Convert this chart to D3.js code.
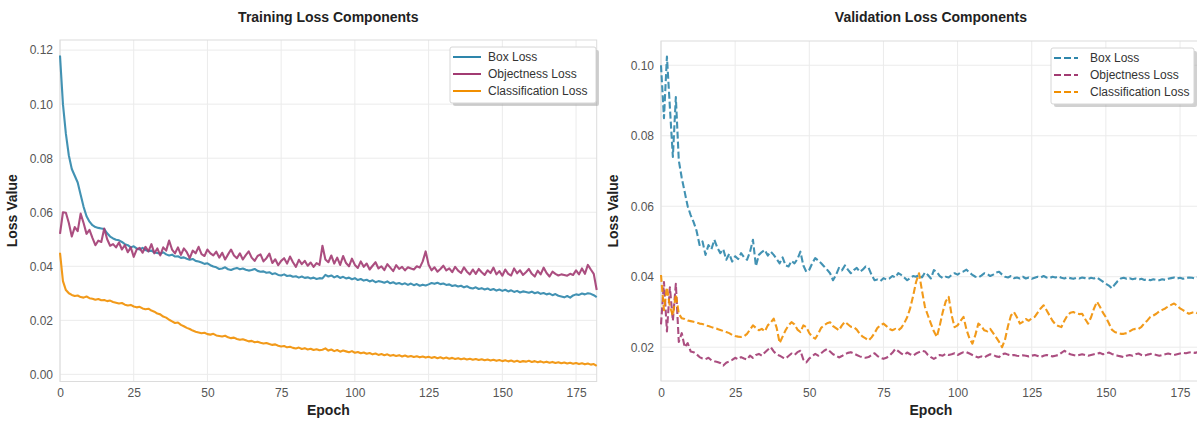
<!DOCTYPE html>
<html>
<head>
<meta charset="utf-8">
<script src="https://cdn.jsdelivr.net/npm/d3@7"></script>
<style>
body { margin: 0; background: #fff; }
text { font-family: "Liberation Sans", Arial, sans-serif; }
</style>
</head>
<body>
<div id="chart"></div>
<script>
// training losses, one value per epoch (0..182)
var trainBox = [
0.1180,0.1000,0.0890,0.0810,0.0760,0.0735,0.0710,0.0665,0.0620,0.0585,
0.0565,0.0552,0.0545,0.0542,0.0540,0.0538,0.0522,0.0510,0.0503,0.0498,
0.0496,0.0490,0.0482,0.0478,0.0470,0.0474,0.0466,0.0462,0.0468,0.0460,
0.0456,0.0458,0.0451,0.0449,0.0446,0.0452,0.0444,0.0440,0.0443,0.0436,
0.0437,0.0431,0.0433,0.0428,0.0424,0.0427,0.0420,0.0418,0.0414,0.0409,
0.0411,0.0404,0.0399,0.0396,0.0390,0.0392,0.0396,0.0389,0.0386,0.0391,
0.0394,0.0389,0.0392,0.0387,0.0384,0.0386,0.0390,0.0383,0.0380,0.0381,
0.0376,0.0378,0.0371,0.0374,0.0368,0.0366,0.0370,0.0364,0.0366,0.0361,
0.0363,0.0358,0.0362,0.0357,0.0359,0.0355,0.0358,0.0353,0.0356,0.0355,
0.0368,0.0362,0.0366,0.0359,0.0364,0.0357,0.0361,0.0355,0.0358,0.0352,
0.0356,0.0349,0.0353,0.0347,0.0350,0.0344,0.0348,0.0341,0.0345,0.0343,
0.0339,0.0344,0.0337,0.0341,0.0335,0.0338,0.0333,0.0337,0.0331,0.0336,
0.0330,0.0334,0.0328,0.0332,0.0329,0.0333,0.0338,0.0335,0.0339,0.0334,
0.0336,0.0331,0.0333,0.0327,0.0330,0.0325,0.0328,0.0322,0.0326,0.0320,
0.0318,0.0322,0.0316,0.0319,0.0314,0.0318,0.0312,0.0316,0.0310,0.0314,
0.0309,0.0313,0.0307,0.0311,0.0305,0.0309,0.0303,0.0307,0.0305,0.0302,
0.0306,0.0300,0.0304,0.0298,0.0301,0.0296,0.0299,0.0293,0.0297,0.0291,
0.0288,0.0285,0.0290,0.0284,0.0292,0.0296,0.0294,0.0299,0.0296,0.0300,
0.0298,0.0293,0.0286];

var trainObj = [
0.0520,0.0600,0.0598,0.0560,0.0510,0.0545,0.0530,0.0595,0.0560,0.0520,
0.0535,0.0505,0.0478,0.0495,0.0490,0.0540,0.0500,0.0476,0.0482,0.0470,
0.0488,0.0462,0.0478,0.0452,0.0470,0.0435,0.0462,0.0468,0.0450,0.0472,
0.0455,0.0482,0.0448,0.0466,0.0440,0.0470,0.0458,0.0495,0.0462,0.0448,
0.0470,0.0442,0.0466,0.0452,0.0430,0.0458,0.0448,0.0472,0.0445,0.0438,
0.0462,0.0448,0.0440,0.0454,0.0432,0.0450,0.0425,0.0444,0.0462,0.0440,
0.0430,0.0448,0.0425,0.0441,0.0455,0.0432,0.0420,0.0438,0.0444,0.0418,
0.0430,0.0447,0.0412,0.0426,0.0404,0.0420,0.0430,0.0410,0.0436,0.0415,
0.0398,0.0424,0.0408,0.0420,0.0402,0.0414,0.0398,0.0412,0.0405,0.0476,
0.0425,0.0415,0.0440,0.0410,0.0432,0.0405,0.0438,0.0412,0.0400,0.0428,
0.0405,0.0394,0.0418,0.0398,0.0410,0.0388,0.0402,0.0415,0.0392,0.0400,
0.0386,0.0408,0.0395,0.0382,0.0404,0.0390,0.0398,0.0385,0.0396,0.0392,
0.0388,0.0400,0.0395,0.0418,0.0455,0.0406,0.0385,0.0396,0.0380,0.0390,
0.0402,0.0385,0.0392,0.0378,0.0398,0.0384,0.0375,0.0396,0.0380,0.0370,
0.0388,0.0372,0.0390,0.0378,0.0368,0.0385,0.0375,0.0395,0.0370,0.0382,
0.0365,0.0388,0.0372,0.0366,0.0392,0.0374,0.0385,0.0368,0.0378,0.0390,
0.0372,0.0362,0.0384,0.0370,0.0395,0.0375,0.0362,0.0380,0.0372,0.0366,
0.0370,0.0368,0.0365,0.0372,0.0368,0.0385,0.0370,0.0392,0.0372,0.0405,
0.0388,0.0372,0.0312];

var trainCls = [
0.0450,0.0345,0.0312,0.0300,0.0294,0.0290,0.0292,0.0286,0.0284,0.0288,
0.0282,0.0280,0.0276,0.0279,0.0274,0.0275,0.0271,0.0273,0.0268,0.0265,
0.0262,0.0264,0.0258,0.0255,0.0257,0.0251,0.0248,0.0250,0.0244,0.0241,
0.0243,0.0236,0.0232,0.0225,0.0222,0.0214,0.0210,0.0202,0.0196,0.0190,
0.0192,0.0183,0.0178,0.0172,0.0168,0.0162,0.0158,0.0155,0.0152,0.0154,
0.0149,0.0147,0.0150,0.0144,0.0142,0.0140,0.0143,0.0137,0.0134,0.0136,
0.0131,0.0128,0.0130,0.0126,0.0122,0.0124,0.0119,0.0121,0.0117,0.0114,
0.0116,0.0112,0.0109,0.0111,0.0106,0.0103,0.0105,0.0100,0.0102,0.0098,
0.0096,0.0099,0.0094,0.0097,0.0092,0.0095,0.0090,0.0093,0.0089,0.0091,
0.0096,0.0088,0.0092,0.0086,0.0090,0.0084,0.0088,0.0085,0.0082,0.0086,
0.0080,0.0083,0.0078,0.0081,0.0076,0.0079,0.0074,0.0077,0.0072,0.0075,
0.0071,0.0074,0.0069,0.0072,0.0068,0.0071,0.0066,0.0070,0.0065,0.0068,
0.0064,0.0067,0.0063,0.0066,0.0062,0.0065,0.0061,0.0064,0.0060,0.0063,
0.0059,0.0062,0.0058,0.0061,0.0057,0.0060,0.0056,0.0059,0.0055,0.0058,
0.0054,0.0057,0.0053,0.0056,0.0052,0.0055,0.0051,0.0054,0.0050,0.0053,
0.0049,0.0052,0.0048,0.0051,0.0047,0.0050,0.0046,0.0049,0.0047,0.0050,
0.0046,0.0049,0.0045,0.0048,0.0044,0.0047,0.0043,0.0046,0.0042,0.0045,
0.0041,0.0044,0.0040,0.0043,0.0039,0.0042,0.0038,0.0041,0.0037,0.0040,
0.0036,0.0038,0.0031];

// validation losses
var valBox = [
0.1000,0.0850,0.1025,0.0880,0.0740,0.0910,0.0730,0.0680,0.0640,0.0600,
0.0575,0.0555,0.0530,0.0490,0.0500,0.0462,0.0490,0.0478,0.0505,0.0482,
0.0467,0.0478,0.0448,0.0465,0.0443,0.0458,0.0450,0.0467,0.0455,0.0448,
0.0470,0.0505,0.0430,0.0462,0.0470,0.0476,0.0460,0.0471,0.0462,0.0450,
0.0438,0.0455,0.0432,0.0429,0.0445,0.0438,0.0450,0.0471,0.0432,0.0414,
0.0420,0.0438,0.0453,0.0446,0.0438,0.0429,0.0420,0.0410,0.0390,0.0405,
0.0425,0.0418,0.0432,0.0420,0.0410,0.0419,0.0425,0.0414,0.0420,0.0429,
0.0425,0.0405,0.0390,0.0392,0.0388,0.0396,0.0392,0.0395,0.0402,0.0398,
0.0410,0.0405,0.0398,0.0390,0.0396,0.0402,0.0400,0.0405,0.0398,0.0412,
0.0405,0.0395,0.0419,0.0414,0.0402,0.0396,0.0400,0.0398,0.0405,0.0410,
0.0406,0.0412,0.0415,0.0420,0.0412,0.0405,0.0400,0.0398,0.0403,0.0410,
0.0408,0.0402,0.0406,0.0412,0.0414,0.0406,0.0400,0.0398,0.0402,0.0396,
0.0398,0.0395,0.0400,0.0395,0.0398,0.0394,0.0397,0.0400,0.0398,0.0402,
0.0398,0.0396,0.0400,0.0398,0.0401,0.0397,0.0395,0.0398,0.0396,0.0394,
0.0397,0.0395,0.0398,0.0396,0.0394,0.0397,0.0395,0.0398,0.0392,0.0386,
0.0380,0.0375,0.0367,0.0378,0.0388,0.0395,0.0397,0.0394,0.0396,0.0393,
0.0395,0.0392,0.0394,0.0391,0.0393,0.0390,0.0393,0.0391,0.0390,0.0393,
0.0391,0.0394,0.0396,0.0398,0.0395,0.0397,0.0394,0.0396,0.0398,0.0397,
0.0395,0.0398,0.0396];

var valObj = [
0.0265,0.0385,0.0245,0.0370,0.0275,0.0380,0.0215,0.0240,0.0200,0.0212,
0.0188,0.0186,0.0180,0.0172,0.0168,0.0166,0.0170,0.0163,0.0160,0.0158,
0.0155,0.0148,0.0156,0.0160,0.0164,0.0170,0.0166,0.0172,0.0168,0.0165,
0.0176,0.0170,0.0178,0.0181,0.0176,0.0185,0.0193,0.0200,0.0188,0.0180,
0.0176,0.0171,0.0168,0.0175,0.0182,0.0178,0.0186,0.0190,0.0165,0.0157,
0.0168,0.0175,0.0181,0.0176,0.0183,0.0190,0.0195,0.0188,0.0180,0.0176,
0.0171,0.0175,0.0180,0.0184,0.0186,0.0182,0.0178,0.0174,0.0171,0.0170,
0.0172,0.0178,0.0183,0.0175,0.0170,0.0167,0.0170,0.0176,0.0184,0.0195,
0.0189,0.0182,0.0178,0.0185,0.0180,0.0176,0.0182,0.0186,0.0190,0.0188,
0.0178,0.0172,0.0167,0.0172,0.0178,0.0176,0.0181,0.0178,0.0180,0.0183,
0.0178,0.0182,0.0186,0.0186,0.0182,0.0178,0.0174,0.0171,0.0174,0.0171,
0.0176,0.0180,0.0178,0.0174,0.0172,0.0180,0.0182,0.0179,0.0177,0.0178,
0.0176,0.0175,0.0177,0.0176,0.0174,0.0176,0.0178,0.0175,0.0172,0.0176,
0.0178,0.0176,0.0174,0.0176,0.0178,0.0184,0.0190,0.0185,0.0180,0.0178,
0.0176,0.0178,0.0180,0.0178,0.0176,0.0178,0.0180,0.0182,0.0184,0.0180,
0.0182,0.0185,0.0181,0.0178,0.0176,0.0174,0.0172,0.0176,0.0178,0.0176,
0.0180,0.0182,0.0178,0.0176,0.0179,0.0181,0.0180,0.0178,0.0176,0.0178,
0.0180,0.0182,0.0180,0.0178,0.0180,0.0182,0.0184,0.0183,0.0185,0.0186,
0.0184,0.0186,0.0185];

var valCls = [
0.0405,0.0305,0.0370,0.0315,0.0290,0.0350,0.0295,0.0282,0.0280,0.0276,
0.0274,0.0272,0.0270,0.0267,0.0266,0.0262,0.0260,0.0257,0.0254,0.0252,
0.0249,0.0246,0.0243,0.0240,0.0235,0.0232,0.0230,0.0229,0.0231,0.0238,
0.0250,0.0262,0.0255,0.0248,0.0252,0.0245,0.0262,0.0270,0.0281,0.0255,
0.0212,0.0230,0.0248,0.0262,0.0271,0.0265,0.0250,0.0243,0.0262,0.0257,
0.0240,0.0230,0.0224,0.0238,0.0255,0.0262,0.0268,0.0271,0.0260,0.0254,
0.0248,0.0262,0.0272,0.0265,0.0258,0.0257,0.0250,0.0238,0.0230,0.0225,
0.0219,0.0228,0.0240,0.0255,0.0262,0.0267,0.0260,0.0252,0.0248,0.0252,
0.0248,0.0255,0.0268,0.0285,0.0310,0.0345,0.0385,0.0410,0.0360,0.0314,
0.0290,0.0267,0.0245,0.0229,0.0262,0.0300,0.0330,0.0343,0.0290,0.0257,
0.0262,0.0275,0.0286,0.0250,0.0225,0.0210,0.0235,0.0267,0.0260,0.0248,
0.0245,0.0252,0.0240,0.0228,0.0215,0.0200,0.0222,0.0260,0.0290,0.0300,
0.0285,0.0267,0.0272,0.0280,0.0275,0.0282,0.0286,0.0298,0.0310,0.0319,
0.0305,0.0290,0.0275,0.0265,0.0260,0.0257,0.0275,0.0290,0.0298,0.0300,
0.0296,0.0294,0.0295,0.0280,0.0267,0.0285,0.0310,0.0329,0.0315,0.0298,
0.0285,0.0268,0.0250,0.0243,0.0240,0.0238,0.0238,0.0240,0.0245,0.0250,
0.0252,0.0252,0.0258,0.0268,0.0276,0.0286,0.0290,0.0295,0.0302,0.0306,
0.0310,0.0316,0.0320,0.0324,0.0318,0.0310,0.0305,0.0300,0.0295,0.0298,
0.0300,0.0296,0.0298];

var seriesNames = ["Box Loss", "Objectness Loss", "Classification Loss"];
var seriesColors = ["#2E86AB", "#A23B72", "#F18F01"];
var epochTicks = [0, 25, 50, 75, 100, 125, 150, 175];
var trainLossTicks = [0.00, 0.02, 0.04, 0.06, 0.08, 0.10, 0.12];
var valLossTicks = [0.02, 0.04, 0.06, 0.08, 0.10];

var w = 1197;
var h = 423;

var svg = d3.select("#chart")
            .append("svg")
            .attr("width", w)
            .attr("height", h)
            .style("display", "block");

svg.append("rect").attr("width", w).attr("height", h).attr("fill", "#fff");

function drawPanel(p) {
    var n = p.series[0].length;
    var x = d3.scaleLinear()
              .domain([0, n - 1])
              .range([p.left, p.right]);

    // matplotlib-style 5% margin on y
    var all = d3.merge(p.series);
    var lo = d3.min(all), hi = d3.max(all);
    var pad = (hi - lo) * 0.05;
    var y = d3.scaleLinear()
              .domain([lo - pad, hi + pad])
              .range([p.bottom, p.top]);

    var g = svg.append("g");

    // grid
    g.selectAll("line.vgrid")
        .data(epochTicks)
        .enter()
        .append("line")
        .attr("x1", function(d) { return x(d); })
        .attr("x2", function(d) { return x(d); })
        .attr("y1", p.top)
        .attr("y2", p.bottom)
        .attr("stroke", "#ebebeb")
        .attr("stroke-width", 1);

    g.selectAll("line.hgrid")
        .data(p.yTicks)
        .enter()
        .append("line")
        .attr("x1", p.left)
        .attr("x2", p.right)
        .attr("y1", function(d) { return y(d); })
        .attr("y2", function(d) { return y(d); })
        .attr("stroke", "#ebebeb")
        .attr("stroke-width", 1);

    // frame
    g.append("rect")
        .attr("x", p.left)
        .attr("y", p.top)
        .attr("width", p.right - p.left)
        .attr("height", p.bottom - p.top)
        .attr("fill", "none")
        .attr("stroke", "#dcdcdc")
        .attr("stroke-width", 1);

    // axes
    var xAxis = g.append("g")
        .attr("transform", "translate(0," + p.bottom + ")")
        .call(d3.axisBottom(x).tickValues(epochTicks).tickSize(0).tickPadding(7));
    var yAxis = g.append("g")
        .attr("transform", "translate(" + p.left + ",0)")
        .call(d3.axisLeft(y).tickValues(p.yTicks).tickSize(0).tickPadding(7)
                .tickFormat(d3.format(".2f")));
    [xAxis, yAxis].forEach(function(a) {
        a.select(".domain").remove();
        a.selectAll("text")
            .attr("font-size", 12)
            .attr("fill", "#555")
            .style("font-family", "'Liberation Sans', Arial, sans-serif");
    });

    // lines
    var line = d3.line()
                 .x(function(d, i) { return x(i); })
                 .y(function(d) { return y(d); });

    g.selectAll("path.series")
        .data(p.series)
        .enter()
        .append("path")
        .attr("d", line)
        .attr("fill", "none")
        .attr("stroke", function(d, i) { return seriesColors[i]; })
        .attr("stroke-width", 2.1)
        .attr("stroke-opacity", 0.9)
        .attr("stroke-linejoin", "round")
        .attr("stroke-dasharray", p.dash);

    // titles
    g.append("text")
        .attr("x", (p.left + p.right) / 2)
        .attr("y", 22)
        .attr("text-anchor", "middle")
        .attr("font-size", 14)
        .attr("font-weight", "bold")
        .attr("fill", "#222")
        .text(p.title);

    g.append("text")
        .attr("x", (p.left + p.right) / 2)
        .attr("y", 415)
        .attr("text-anchor", "middle")
        .attr("font-size", 14)
        .attr("font-weight", "bold")
        .attr("fill", "#222")
        .text("Epoch");

    g.append("text")
        .attr("transform", "translate(" + (p.left - 43) + "," + ((p.top + p.bottom) / 2) + ") rotate(-90)")
        .attr("text-anchor", "middle")
        .attr("font-size", 14)
        .attr("font-weight", "bold")
        .attr("fill", "#222")
        .text("Loss Value");

    // legend
    var lg = g.append("g").attr("transform", "translate(" + p.legendX + "," + (p.top + 7) + ")");
    lg.append("rect")
        .attr("x", 3).attr("y", 3)
        .attr("width", p.legendW).attr("height", 56)
        .attr("rx", 2)
        .attr("fill", "#999").attr("fill-opacity", 0.45);
    lg.append("rect")
        .attr("width", p.legendW).attr("height", 56)
        .attr("rx", 2)
        .attr("fill", "#fff")
        .attr("stroke", "#d6d6d6");
    var item = lg.selectAll("g.item")
        .data(seriesNames)
        .enter()
        .append("g")
        .attr("transform", function(d, i) { return "translate(0," + (10 + i * 17) + ")"; });
    item.append("line")
        .attr("x1", 3).attr("x2", p.handleLen + 3)
        .attr("stroke", function(d, i) { return seriesColors[i]; })
        .attr("stroke-width", 2)
        .attr("stroke-dasharray", p.dash);
    item.append("text")
        .attr("x", p.textX)
        .attr("dy", "0.35em")
        .attr("font-size", 12)
        .attr("fill", "#333")
        .text(function(d) { return d; });
}

drawPanel({
    series: [trainBox, trainObj, trainCls],
    yTicks: trainLossTicks,
    left: 60, right: 596.7, top: 40, bottom: 381.5,
    dash: null,
    title: "Training Loss Components",
    legendX: 450, legendW: 146, handleLen: 28, textX: 38
});

drawPanel({
    series: [valBox, valObj, valCls],
    yTicks: valLossTicks,
    left: 661, right: 1200.8, top: 41, bottom: 381,
    dash: "7,3",
    title: "Validation Loss Components",
    legendX: 1051, legendW: 143, handleLen: 24, textX: 39
});
</script>
</body>
</html>
